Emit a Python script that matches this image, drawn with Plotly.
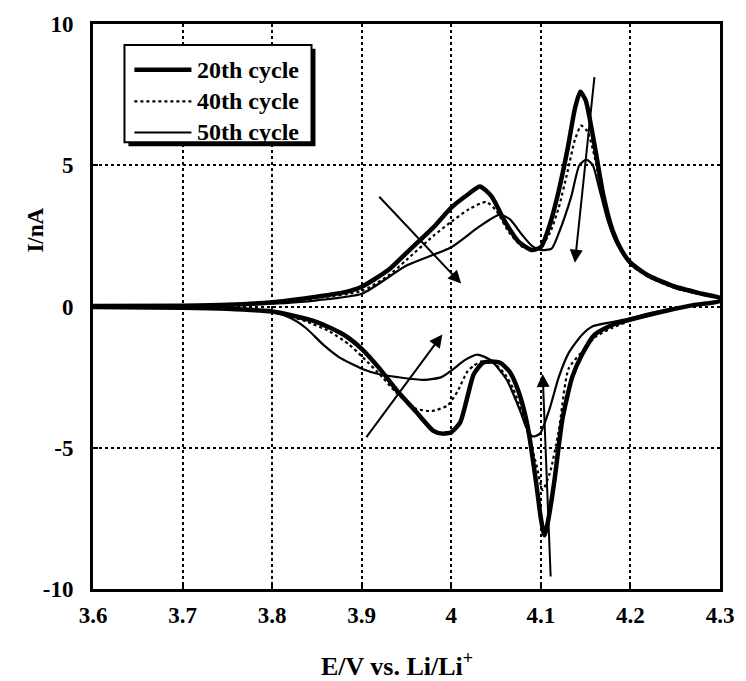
import plotly.graph_objects as go

# ---- data (E in V, I in nA) ----
# 20th cycle: anodic sweep (3.6 -> 4.3) then cathodic sweep (4.3 -> 3.6)
e20_an = [3.60, 3.70, 3.75, 3.80, 3.85, 3.88, 3.90, 3.93, 3.95, 3.98, 4.00, 4.02, 4.032, 4.045, 4.06, 4.075, 4.09, 4.10,
          4.11, 4.12, 4.13, 4.138, 4.144, 4.15, 4.16, 4.17, 4.18, 4.19, 4.20, 4.22, 4.25, 4.28, 4.30]
i20_an = [0.02, 0.03, 0.06, 0.15, 0.35, 0.5, 0.7, 1.3, 1.9, 2.8, 3.5, 4.0, 4.25, 3.9, 3.0, 2.3, 2.0, 2.1,
          2.9, 4.1, 5.6, 7.0, 7.6, 7.3, 5.7, 3.9, 2.7, 2.0, 1.55, 1.1, 0.7, 0.45, 0.3]
e20_ca = [4.30, 4.27, 4.24, 4.22, 4.20, 4.18, 4.16, 4.146, 4.135, 4.124, 4.115, 4.108, 4.104, 4.10, 4.095, 4.085,
          4.075, 4.065, 4.055, 4.045, 4.035, 4.025, 4.018, 4.01, 4.0, 3.99, 3.98, 3.96, 3.94, 3.92, 3.90, 3.88,
          3.85, 3.82, 3.80, 3.75, 3.70, 3.60]
i20_ca = [0.2, 0.05, -0.15, -0.3, -0.46, -0.65, -1.0, -1.7, -2.5, -4.0, -6.2, -7.6, -8.1, -7.5, -6.3, -4.2,
          -3.0, -2.3, -2.0, -1.95, -2.0, -2.4, -3.2, -4.1, -4.45, -4.5, -4.4, -3.7, -3.0, -2.2, -1.5, -1.0,
          -0.55, -0.3, -0.18, -0.08, -0.04, -0.02]

# 40th cycle
e40_an = [3.60, 3.70, 3.75, 3.80, 3.85, 3.90, 3.93, 3.95, 3.98, 4.00, 4.02, 4.039, 4.05, 4.065, 4.08, 4.092, 4.10,
          4.11, 4.12, 4.13, 4.138, 4.145, 4.152, 4.16, 4.17, 4.18, 4.19, 4.20, 4.22, 4.25, 4.28, 4.30]
i40_an = [0.02, 0.03, 0.05, 0.12, 0.3, 0.55, 1.1, 1.65, 2.5, 3.0, 3.45, 3.7, 3.4, 2.6, 2.1, 2.0, 2.1,
          2.6, 3.5, 4.8, 5.9, 6.4, 6.2, 5.3, 3.7, 2.6, 1.95, 1.5, 1.05, 0.65, 0.42, 0.28]
e40_ca = [4.30, 4.27, 4.24, 4.22, 4.20, 4.18, 4.16, 4.146, 4.131, 4.12, 4.11, 4.102, 4.095, 4.084, 4.075, 4.069,
          4.06, 4.047, 4.033, 4.025, 4.018, 4.007, 3.996, 3.978, 3.959, 3.937, 3.923, 3.90, 3.886, 3.864, 3.838,
          3.82, 3.80, 3.75, 3.70, 3.60]
i40_ca = [0.2, 0.05, -0.15, -0.3, -0.5, -0.75, -1.1, -1.6, -2.2, -4.4, -5.9, -6.5, -5.6, -4.3, -3.4, -2.9,
          -2.4, -2.0, -1.95, -2.1, -2.3, -3.0, -3.5, -3.7, -3.6, -3.0, -2.5, -1.76, -1.35, -0.88, -0.53,
          -0.35, -0.2, -0.08, -0.04, -0.02]

# 50th cycle
e50_an = [3.60, 3.70, 3.75, 3.80, 3.85, 3.90, 3.95, 4.00, 4.03, 4.054, 4.065, 4.08, 4.09, 4.10, 4.112, 4.12,
          4.134, 4.143, 4.151, 4.158, 4.165, 4.175, 4.185, 4.20, 4.22, 4.25, 4.28, 4.30]
i50_an = [0.02, 0.03, 0.05, 0.1, 0.22, 0.45, 1.45, 2.1, 2.8, 3.25, 3.1, 2.5, 2.15, 2.0, 2.05, 2.6,
          3.9, 5.0, 5.2, 5.0, 4.2, 3.0, 2.2, 1.5, 1.05, 0.65, 0.42, 0.28]
e50_ca = [4.30, 4.27, 4.24, 4.22, 4.20, 4.18, 4.158, 4.146, 4.131, 4.12, 4.11, 4.099, 4.091, 4.084, 4.077,
          4.062, 4.044, 4.029, 4.015, 4.003, 3.989, 3.97, 3.94, 3.92, 3.90, 3.875, 3.857, 3.838, 3.82, 3.80,
          3.75, 3.70, 3.60]
i50_ca = [0.2, 0.05, -0.12, -0.25, -0.42, -0.55, -0.7, -1.0, -1.65, -2.5, -3.6, -4.5, -4.6, -4.3, -3.7,
          -2.6, -1.9, -1.7, -1.9, -2.2, -2.5, -2.6, -2.5, -2.4, -2.2, -1.8, -1.35, -0.77, -0.4, -0.2,
          -0.08, -0.04, -0.02]

names = ["20th cycle", "40th cycle", "50th cycle"]

# trend arrows: (tail E, tail I, head E, head I)
arrows = [
    (3.918, 3.94, 4.011, 0.81),
    (4.160, 8.17, 4.138, 1.55),
    (3.904, -4.68, 3.990, -0.99),
    (4.111, -9.61, 4.102, -2.39),
]

x_ticks = [3.6, 3.7, 3.8, 3.9, 4.0, 4.1, 4.2, 4.3]
x_tick_text = ["3.6", "3.7", "3.8", "3.9", "4", "4.1", "4.2", "4.3"]
y_ticks = [-10, -5, 0, 5, 10]
y_tick_text = ["-10", "-5", "0", "5", "10"]

FONT = "Liberation Serif, Times New Roman, serif"
BOLD = "bold"

styles = [
    dict(color="black", width=4.5, dash="solid"),
    dict(color="black", width=2.2, dash="dot"),
    dict(color="black", width=2.2, dash="solid"),
]
series = [
    (e20_an + e20_ca, i20_an + i20_ca),
    (e40_an + e40_ca, i40_an + i40_ca),
    (e50_an + e50_ca, i50_an + i50_ca),
]

fig = go.Figure()
for k, (xs, ys) in enumerate(series):
    fig.add_trace(go.Scatter(x=xs, y=ys, mode="lines", name=names[k], showlegend=False,
                             line=dict(shape="spline", smoothing=0.6, **styles[k])))

for (tx, ty, hx, hy) in arrows:
    fig.add_annotation(x=hx, y=hy, ax=tx, ay=ty, xref="x", yref="y", axref="x", ayref="y",
                       showarrow=True, arrowhead=2, arrowsize=1.3, arrowwidth=2, arrowcolor="black", text="")

# axis titles
fig.add_annotation(x=-0.091, y=0.636, xref="paper", yref="paper", text="I/nA", textangle=-90,
                   xanchor="center", yanchor="middle", showarrow=False,
                   font=dict(family=FONT, size=23, color="black", weight=BOLD))
fig.add_annotation(x=0.485, y=-0.134, xref="paper", yref="paper", text="E/V vs. Li/Li<sup>+</sup>",
                   xanchor="center", yanchor="middle", showarrow=False,
                   font=dict(family=FONT, size=26, color="black", weight=BOLD))

# ---- legend box (drawn in paper coordinates) ----
fig.add_shape(type="rect", xref="paper", yref="paper", x0=0.0565, x1=0.3548, y0=0.7835, y1=0.956,
              fillcolor="black", line=dict(width=0), layer="above")
fig.add_shape(type="rect", xref="paper", yref="paper", x0=0.0502, x1=0.3485, y0=0.7905, y1=0.963,
              fillcolor="white", line=dict(color="black", width=2), layer="above")
row_y = [0.919, 0.863, 0.808]
for k in range(3):
    fig.add_shape(type="line", xref="paper", yref="paper", x0=0.066, x1=0.157, y0=row_y[k], y1=row_y[k],
                  line=styles[k], layer="above")
    fig.add_annotation(x=0.163, y=row_y[k], xref="paper", yref="paper", text=names[k],
                       xanchor="left", yanchor="middle", showarrow=False,
                       font=dict(family=FONT, size=24, color="black", weight=BOLD))

axis_common = dict(showline=True, linewidth=3, linecolor="black", mirror=True,
                   showgrid=True, gridcolor="black", gridwidth=1.5, griddash="dot",
                   zeroline=False, ticks="inside", ticklen=5, tickwidth=2, tickcolor="black",
                   tickfont=dict(family=FONT, size=23, color="black", weight=BOLD))

fig.update_layout(
    width=746, height=681,
    margin=dict(l=93, r=16, t=21, b=92),
    paper_bgcolor="white", plot_bgcolor="white",
    xaxis=dict(range=[3.6, 4.3], tickvals=x_ticks, ticktext=x_tick_text, ticklabelstandoff=3, **axis_common),
    yaxis=dict(range=[-10, 10], tickvals=y_ticks, ticktext=y_tick_text, ticklabelstandoff=12, **axis_common),
    showlegend=False,
)

fig.write_html("out.html")
